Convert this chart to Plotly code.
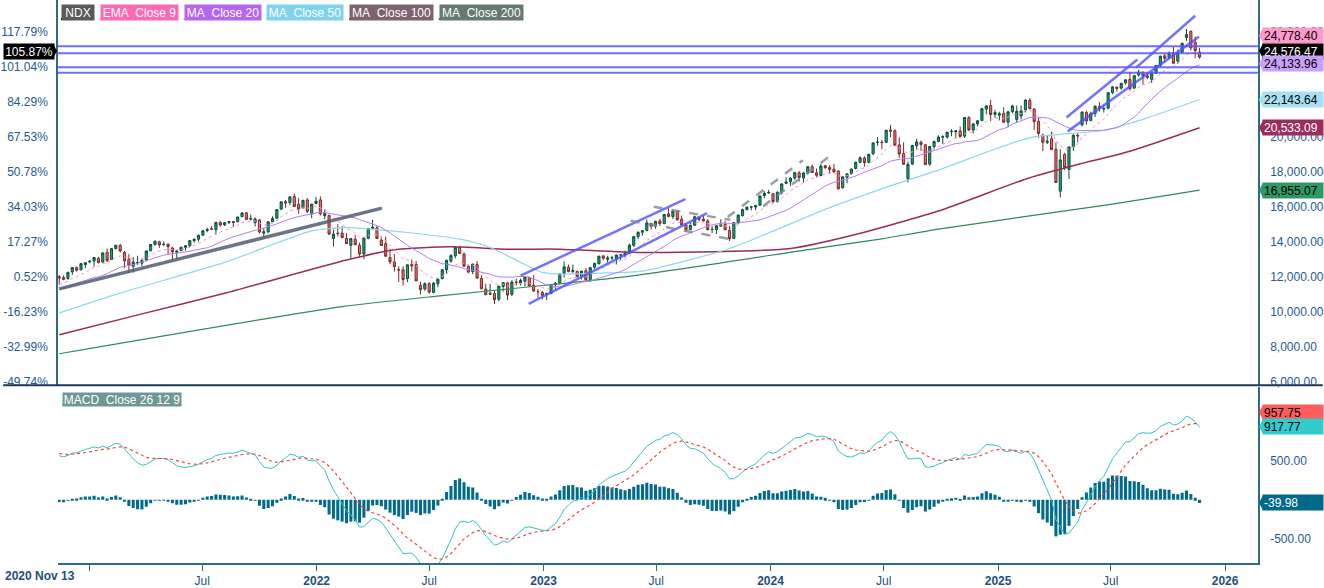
import numpy as np
import pandas as pd
import plotly.graph_objects as go

# ---------------- DATA (weekly NDX bars, first bar 2020 Nov 13) ----------------
start_date = "2020-11-13"

open_ = [
    # 2020
    12000, 11950, 11900, 12280, 12520, 12400, 12700, 12850,
    # 2021
    12900, 13050, 12850, 13400, 13000, 13620, 13800, 13400, 13000, 12600, 12800, 12780,
    12980, 13500, 13850, 14000, 13850, 13870, 13650, 13400, 13500, 13690, 13780, 14070, 14150,
    14380, 14650, 14750, 14700, 15100, 14980, 15100, 15160, 15150, 15440, 15660, 15300, 15100,
    15250, 14500, 14580, 15150, 15350, 15870, 16300, 16250, 16600, 16150, 15950, 16400, 15600, 16200,
    # 2022
    16400, 15500, 15500, 14200, 14500, 14500, 14200, 13800, 14150, 13800, 13300, 14200,
    14770, 14800, 14100, 13900, 13100, 12850, 12400, 12400, 11900, 12700, 12700, 11500, 11300,
    11600, 11100, 11600, 11900, 12400, 12900, 13200, 13700, 13300, 12600, 12300, 12700, 11900, 11300,
    11000, 11050, 10720, 11450, 11650, 11000, 11700, 11650, 11750, 11950, 11500, 11150, 11100,
    # 2023
    11000, 11050, 11550, 11620, 12200, 12550, 12300, 12300, 12000, 12350, 11850, 12550, 12750,
    13200, 13000, 13080, 13050, 13250, 13250, 13350, 13800, 14300, 14550, 14650, 15050, 14900,
    15200, 15050, 15600, 15450, 15750, 15300, 14950, 14700, 14950, 15400, 15300, 15200, 14700,
    14700, 14900, 15000, 14650, 14200, 15100, 15500, 15850, 15990, 15990, 16100, 16650, 16800,
    # 2024
    16750, 16300, 16850, 17350, 17450, 17650, 17950, 17650, 17950, 18300, 17950, 17800, 18350,
    18250, 18150, 18050, 17100, 17700, 17900, 18200, 18550, 18800, 18550, 19050, 19700, 19700,
    19700, 20400, 20350, 19550, 19050, 17600, 18450, 19500, 19700, 19550, 18450, 19450, 19750,
    20000, 20000, 20300, 20300, 20350, 20050, 21100, 20400, 20750, 20950, 21600, 21800, 21300,
    # 2025
    21250, 21350, 20850, 21450, 21000, 21200, 21550, 22100, 21600, 20900, 20100, 19700, 19900,
    19300, 16900, 19000, 18150, 19450, 20100, 20700, 21400, 20950, 21350, 21750, 21600, 21650,
    22550, 22850, 22800, 23100, 23300, 22800, 23550, 23700, 23500, 23300, 23650, 24100, 24650,
    24550, 24800, 24350, 24850, 25690, 26050, 25430, 24860,
]

high_ = [
    # 2020
    12110, 12080, 12270, 12530, 12600, 12770, 12840, 12970,
    # 2021
    13120, 13150, 13400, 13620, 13620, 13820, 13880, 13480, 13300, 13130, 13200, 13050,
    13500, 13850, 14060, 14060, 14020, 13890, 13720, 13530, 13720, 13800, 14080, 14200, 14400,
    14640, 14800, 14900, 15120, 15190, 15120, 15170, 15200, 15430, 15700, 15700, 15560, 15400,
    15300, 14800, 15150, 15460, 15870, 16300, 16400, 16600, 16764, 16500, 16400, 16500, 16170, 16560,
    # 2022
    16600, 15860, 15560, 14700, 15000, 14900, 14500, 14200, 14400, 13960, 14230, 14800,
    15265, 14900, 14300, 14300, 13600, 13300, 12600, 12600, 12700, 13000, 12900, 11700, 11680,
    11700, 11700, 11900, 12450, 12950, 13300, 13700, 13720, 13400, 12700, 12740, 12900, 12100, 11600,
    11600, 11200, 11470, 11700, 11700, 11800, 11900, 11900, 12050, 12000, 12100, 11300, 11200,
    # 2023
    11100, 11550, 11700, 12170, 12880, 12700, 12700, 12350, 12330, 12500, 12550, 12800, 13190,
    13200, 13200, 13200, 13260, 13300, 13500, 13900, 14300, 14600, 14650, 15280, 15100, 15200,
    15300, 15600, 15930, 15800, 15800, 15500, 15050, 15100, 15500, 15450, 15500, 15300, 14900,
    14950, 15300, 15200, 14900, 15100, 15550, 15900, 16020, 16050, 16100, 16650, 16900, 16970,
    # 2024
    16800, 16900, 17350, 17700, 17700, 17970, 18050, 18000, 18310, 18420, 18200, 18460, 18400,
    18400, 18450, 18100, 17750, 17900, 18200, 18600, 18900, 18900, 19050, 19700, 20000, 19850,
    20400, 20690, 20450, 19980, 19700, 18600, 19550, 19900, 19800, 19600, 19500, 19800, 20100,
    20100, 20300, 20450, 20400, 20600, 21150, 21200, 20800, 20950, 21650, 21800, 22130, 21550,
    # 2025
    21450, 21700, 21500, 21850, 21800, 21800, 22150, 22230, 21650, 21100, 20200, 20100, 20300,
    19700, 19300, 19100, 19450, 20150, 20250, 21450, 21500, 21450, 21800, 22000, 21850, 22550,
    22900, 22900, 23100, 23300, 23700, 23550, 23850, 23750, 23700, 23700, 24100, 24650, 24800,
    24900, 25150, 25000, 25400, 26182, 26100, 25750, 25100,
]

low_ = [
    # 2020
    11550, 11800, 11830, 12100, 12300, 12380, 12500, 12780,
    # 2021
    12580, 12780, 12800, 12850, 12980, 13560, 13400, 12500, 12208, 12240, 12680, 12600,
    12900, 13450, 13780, 13660, 13750, 13300, 12946, 13000, 13470, 13500, 13700, 13960, 14000,
    14360, 14550, 14700, 14430, 14870, 14900, 15030, 14850, 15120, 15420, 15280, 15220, 14880,
    14480, 14260, 14480, 15130, 15340, 15850, 15950, 16100, 16000, 15600, 15900, 15650, 15350, 16150,
    # 2022
    15500, 15300, 14430, 13725, 14300, 14200, 13880, 13021, 13800, 13100, 13000, 14150,
    14700, 14180, 13770, 13170, 12720, 12300, 11700, 11500, 11700, 12300, 11760, 10990, 11200,
    11030, 11050, 11400, 11850, 12150, 12800, 13050, 13300, 12600, 12200, 12150, 11900, 11300, 10970,
    10960, 10440, 10600, 11150, 10670, 10900, 11500, 11500, 11450, 11450, 11150, 10800, 10700,
    # 2023
    10670, 11000, 11250, 11550, 11950, 12250, 12200, 11950, 11850, 11800, 11700, 12450, 12700,
    12950, 12800, 12950, 12700, 12950, 13100, 13300, 13700, 14150, 14350, 14600, 14700, 14750,
    14900, 15000, 15400, 15300, 15200, 14950, 14550, 14700, 14900, 15150, 15150, 14650, 14500,
    14450, 14850, 14650, 14050, 14150, 15000, 15450, 15800, 15800, 15800, 16050, 16500, 16750,
    # 2024
    16200, 16250, 16700, 17300, 17200, 17550, 17450, 17400, 17850, 17950, 17700, 17750, 18150,
    17900, 17950, 17000, 17050, 17350, 17850, 18150, 18500, 18300, 18500, 18950, 19500, 19300,
    19650, 20000, 19500, 18800, 18400, 17400, 18400, 19300, 19200, 18400, 18350, 19300, 19700,
    19600, 19900, 20050, 19950, 19950, 19950, 20350, 20200, 20600, 20900, 21300, 20900, 21100,
    # 2025
    20950, 20800, 20550, 21350, 20800, 21000, 21400, 21600, 20400, 19950, 19200, 19600, 19250,
    17380, 16542, 18100, 17600, 19200, 19700, 20600, 20700, 20900, 21150, 21450, 21400, 21600,
    22450, 22600, 22700, 23000, 22650, 22750, 23450, 23000, 23300, 23100, 23600, 24000, 24250,
    24450, 24200, 24200, 24800, 25500, 24950, 24520, 24480,
]

close_ = [
    # 2020
    11937.84, 11854, 12258, 12528, 12378, 12755, 12804, 12888,
    # 2021
    13105, 12804, 13366, 12925, 13613, 13807, 13474, 12909, 12668, 12843, 12821, 12931,
    13480, 13845, 14041, 13819, 13861, 13720, 13431, 13469, 13687, 13774, 14069, 14143, 14379,
    14639, 14705, 14730, 15119, 14959, 15095, 15161, 15113, 15425, 15653, 15288, 15333, 15309,
    14566, 14579, 15146, 15336, 15850, 16290, 16217, 16573, 16026, 15880, 16378, 15746, 16156, 16320,
    # 2022
    15596, 15611, 14439, 14440, 14478, 14254, 13894, 14187, 13837, 13301, 14220, 14768,
    14838, 14193, 13793, 13174, 12854, 12584, 12387, 11835, 12682, 12628, 11764, 11265, 11608,
    11128, 11636, 11861, 12397, 12947, 13209, 13705, 13339, 12605, 12271, 12731, 11927, 11311, 10971,
    11049, 10696, 11470, 11669, 10953, 11697, 11677, 11786, 11988, 11480, 11181, 11143, 10940,
    # 2023
    11040, 11541, 11620, 12167, 12573, 12305, 12359, 12008, 12330, 11830, 12520, 12767, 13181,
    13062, 13080, 13092, 13246, 13262, 13340, 13808, 14298, 14546, 14634, 15084, 14891, 15179,
    15042, 15565, 15452, 15758, 15274, 14973, 14694, 14941, 15432, 15285, 15203, 14701, 14715,
    14919, 14995, 14700, 14180, 15099, 15530, 15840, 15982, 15998, 16084, 16623, 16776, 16826,
    # 2024
    16306, 16832, 17314, 17421, 17643, 17962, 17686, 17937, 18302, 17962, 17808, 18339, 18255,
    18139, 18003, 17037, 17718, 17890, 18161, 18546, 18809, 18537, 19000, 19660, 19701, 19683,
    20392, 20332, 19522, 19023, 18440, 18430, 19508, 19720, 19575, 18421, 19455, 19736, 20000,
    20011, 20272, 20324, 20352, 20033, 21118, 20394, 20744, 20930, 21622, 21780, 21289, 21394,
    # 2025
    21326, 20847, 21441, 21774, 21478, 21491, 22115, 21614, 20884, 20202, 19704, 19754, 19282,
    17398, 18690, 18258, 19432, 20102, 20062, 21428, 20915, 21341, 21761, 21631, 21626, 22534,
    22867, 22780, 23066, 23272, 22764, 23505, 23713, 23499, 23415, 23652, 24093, 24626, 24504,
    24785, 24222, 24818, 25358, 25858, 25100, 24940, 24576.47,
]

# weekly closes before the first bar (2020 Jan 3 .. Nov 6), used only to warm up EMA / MA20 / MACD
warmup_close = [
    8794, 9022, 9174, 9187, 8992, 9401, 9623, 9446, 8462, 8530, 7875, 6994, 7503, 7528, 8230,
    8833, 8784, 8718, 9121, 9152, 9325, 9555, 9824, 9588, 10057, 9850, 10342, 10768, 10503,
    10461, 10906, 11139, 11220, 11650, 12056, 11622, 11087, 10937, 11242, 11316, 11920, 11863,
    11666, 11052, 11895,
]

# long moving averages: (week index from first bar, value)
ma50_week = [0, 14, 38, 58, 66, 80, 92, 99, 107, 111, 115, 124, 134, 154, 177, 192, 202, 223, 240, 250, 262]
ma50_val = [9934, 11069, 12822, 14625, 14819, 14534, 14153, 13679, 12700, 12252, 12155, 12212, 12326,
            13621, 15960, 17290, 18106, 19955, 20371, 21096, 22143.64]
ma100_week = [0, 19, 38, 66, 77, 90, 103, 115, 134, 168, 185, 202, 223, 234, 246, 262]
ma100_val = [8680, 9877, 11054, 12955, 13542, 13713, 13582, 13582, 13394, 13621, 14551, 15765, 17672,
             18430, 19190, 20533.09]
ma200_week = [0, 65, 88, 110, 133, 174, 189, 202, 242, 262]
ma200_val = [7596, 10294, 10925, 11474, 12101, 13629, 14169, 14730, 16157, 16955.07]

# drawn trend lines: (dates, prices)
grey_trend = (["2020-11-13", "2022-04-16"], [11307, 15929])
blue_lines = [
    (["2022-11-25", "2023-08-17"], [12066, 16442]),
    (["2022-12-08", "2023-09-21"], [10451, 15643]),
    (["2025-04-21", "2025-08-13"], [21121, 24431]),
    (["2025-04-23", "2025-11-20"], [20322, 25743]),
    (["2025-08-11", "2025-11-14"], [23974, 26941]),
]
grey_dashed = [
    (["2023-06-27", "2023-10-28"], [16003, 15261]),
    (["2023-05-21", "2023-10-28"], [15204, 14160]),
    (["2023-10-24", "2024-02-22"], [15415, 18668]),
    (["2023-12-20", "2024-04-03"], [16043, 18839]),
]
level_prices = [25190, 24790, 23991, 23671]

price_ticks = [6000, 8000, 10000, 12000, 14000, 16000, 18000, 20000, 22000, 24000, 26000]
# right-axis labels that are not hidden behind the value tags
price_ticks_right = [6000, 8000, 10000, 12000, 14000, 16000, 18000, 20000, 26000]
macd_ticks = [-500, 500]

tick_dates = ["2021-01-01", "2021-07-01", "2022-01-01", "2022-07-01", "2023-01-01", "2023-07-01",
              "2024-01-01", "2024-07-01", "2025-01-01", "2025-07-01", "2026-01-01"]
tick_text = ["", "Jul", "<b>2022</b>", "Jul", "<b>2023</b>", "Jul", "<b>2024</b>", "Jul",
             "<b>2025</b>", "Jul", "<b>2026</b>"]

# last-value tags shown on the right axis (text as printed in the chart)
last_tags = ["24,778.40", "24,576.47", "24,133.96", "22,143.64", "20,533.09", "16,955.07"]
macd_tags = ["957.75", "917.77", "-39.98"]

# ---------------- DERIVED SERIES ----------------
dates = pd.date_range(start_date, periods=len(close_), freq="7D")
base = close_[0]
allc = pd.Series(warmup_close + close_, dtype=float)
n0 = len(warmup_close)
ema9 = allc.ewm(span=9, adjust=False).mean().iloc[n0:].values
ma20 = allc.rolling(20).mean().iloc[n0:].values
macd_line = allc.ewm(span=12, adjust=False).mean() - allc.ewm(span=26, adjust=False).mean()
signal_line = macd_line.ewm(span=9, adjust=False).mean()
hist = (macd_line - signal_line).iloc[n0:].values
macd_v = macd_line.iloc[n0:].values
sig_v = signal_line.iloc[n0:].values


def week_dates(weeks):
    return pd.Timestamp(start_date) + pd.to_timedelta(np.array(weeks) * 7, unit="D")


# ---------------- GEOMETRY HELPERS ----------------
PL, PW, PH = 55, 1204, 565


def px_x(x):
    return (x - PL) / PW


def px_y(y):
    return 1 - y / PH


FONT = "Liberation Sans, Arial, sans-serif"
TICK_COLOR = "#1e5a96"
AXIS_COLOR = "#2d6a8a"

fig = go.Figure()

# moving averages
fig.add_trace(go.Scatter(x=week_dates(ma200_week), y=ma200_val, mode="lines", line=dict(color="#2e8b57", width=1.2, shape="spline", smoothing=0.6), hoverinfo="skip"))
fig.add_trace(go.Scatter(x=week_dates(ma100_week), y=ma100_val, mode="lines", line=dict(color="#9a2b5a", width=1.5, shape="spline", smoothing=0.6), hoverinfo="skip"))
fig.add_trace(go.Scatter(x=week_dates(ma50_week), y=ma50_val, mode="lines", line=dict(color="#8fd6ee", width=1.2, shape="spline", smoothing=0.6), hoverinfo="skip"))
fig.add_trace(go.Scatter(x=dates, y=ma20, mode="lines", line=dict(color="#b57cf5", width=1), hoverinfo="skip"))
fig.add_trace(go.Scatter(x=dates, y=ema9, mode="lines", line=dict(color="#ff8cc6", width=1, dash="dot"), hoverinfo="skip"))

# candles
fig.add_trace(go.Candlestick(
    x=dates, open=open_, high=high_, low=low_, close=close_,
    increasing=dict(fillcolor="#1aa579", line=dict(color="#0d4d36", width=1)),
    decreasing=dict(fillcolor="#e57373", line=dict(color="#7a2a2a", width=1)),
    whiskerwidth=0, hoverinfo="skip", xaxis="x", yaxis="y"))

# drawn lines
fig.add_trace(go.Scatter(x=grey_trend[0], y=grey_trend[1], mode="lines", line=dict(color="rgba(80,94,115,0.85)", width=3.5), hoverinfo="skip"))
for xs, ys in blue_lines:
    fig.add_trace(go.Scatter(x=xs, y=ys, mode="lines", line=dict(color="rgba(80,80,255,0.8)", width=2.5), hoverinfo="skip"))
for xs, ys in grey_dashed:
    fig.add_trace(go.Scatter(x=xs, y=ys, mode="lines", line=dict(color="rgba(125,132,150,0.8)", width=2.5, dash="dash"), hoverinfo="skip"))

# invisible trace so the percent axis is drawn
fig.add_trace(go.Scatter(x=[dates[0]], y=[base], yaxis="y2", mode="markers", marker=dict(opacity=0), hoverinfo="skip"))

# MACD panel
fig.add_trace(go.Bar(x=dates, y=hist, yaxis="y3", marker=dict(color="#006b8a", line=dict(width=0)), hoverinfo="skip"))
fig.add_trace(go.Scatter(x=dates, y=macd_v, yaxis="y3", mode="lines", line=dict(color="#2ec4c4", width=1), hoverinfo="skip"))
fig.add_trace(go.Scatter(x=dates, y=sig_v, yaxis="y3", mode="lines", line=dict(color="#ff4040", width=1.2, dash="dot"), hoverinfo="skip"))

shapes = []
for p in level_prices:
    shapes.append(dict(type="line", xref="paper", x0=0, x1=1, yref="y", y0=p, y1=p,
                       line=dict(color="rgba(85,85,255,0.85)", width=2)))
# panel separator
shapes.append(dict(type="line", xref="paper", x0=px_x(0), x1=px_x(1324), yref="paper", y0=px_y(386.5), y1=px_y(386.5),
                   line=dict(color="#1a3a55", width=2)))

annotations = []
# legend boxes
legend_items = [
    ("NDX", "#5a5a5a", "#000000", 58, 32),
    ("EMA\u00a0 Close 9", "#ff69b4", "#ff9fd0", 97, 77),
    ("MA\u00a0 Close 20", "#b565f5", "#cfa3fa", 181, 76),
    ("MA\u00a0 Close 50", "#7fd3ef", "#a8e4f4", 264, 76),
    ("MA\u00a0 Close 100", "#7b6470", "#9b2d5c", 347, 83),
    ("MA\u00a0 Close 200", "#667a70", "#2e8b57", 437, 83),
]
for txt, bg, ul, left, w in legend_items:
    annotations.append(dict(text=txt, xref="paper", yref="paper", x=px_x(left), y=px_y(4), xanchor="left", yanchor="top",
                            showarrow=False, bgcolor=bg, width=w, height=15, borderpad=0, align="center",
                            font=dict(family=FONT, size=12, color="white")))
    shapes.append(dict(type="line", xref="paper", yref="paper", x0=px_x(left), x1=px_x(left + w), y0=px_y(19), y1=px_y(19),
                       line=dict(color=ul, width=2)))

annotations.append(dict(text="MACD\u00a0 Close 26 12 9", xref="paper", yref="paper", x=px_x(59), y=px_y(393), xanchor="left", yanchor="top",
                        showarrow=False, bgcolor="#6f9795", width=118, height=13, borderpad=0,
                        font=dict(family=FONT, size=12, color="white")))
shapes.append(dict(type="line", xref="paper", yref="paper", x0=px_x(59), x1=px_x(177), y0=px_y(406), y1=px_y(406),
                   line=dict(color="#33cccc", width=2)))

# right-side value tags
tag_values = [float(t.replace(",", "")) for t in last_tags]
tag_style = [("#ff99cc", "black", 18), ("black", "white", 6), ("#c9a0f7", "black", 1),
             ("#a6e0f2", "black", 0), ("#9b2d5c", "white", 0), ("#2e9966", "black", 0)]
for txt, v, (bg, fc, ys) in zip(last_tags, tag_values, tag_style):
    annotations.append(dict(text=txt, xref="paper", yref="y", x=px_x(1263), y=v, yshift=ys, xanchor="left", yanchor="middle",
                            showarrow=False, bgcolor=bg, width=58, height=13, borderpad=1, align="left",
                            font=dict(family=FONT, size=12, color=fc)))
    shapes.append(dict(type="path", xref="paper", xsizemode="pixel", xanchor=1.0, yref="y", ysizemode="pixel", yanchor=v,
                       path=f"M 1 {ys} L 5 {ys + 7.5} L 5 {ys - 7.5} Z", fillcolor=bg, line=dict(width=0)))

# left percent tag for the last close
pct_txt = f"{(close_[-1] / base - 1) * 100:.2f}%"
annotations.append(dict(text=pct_txt, xref="paper", yref="y", x=px_x(0), y=close_[-1], yshift=6, xanchor="left", yanchor="middle",
                        showarrow=False, bgcolor="black", width=48, height=13, borderpad=1,
                        font=dict(family=FONT, size=12, color="white")))
shapes.append(dict(type="path", xref="paper", xsizemode="pixel", xanchor=0.0, yref="y", ysizemode="pixel", yanchor=close_[-1],
                   path="M -1 6 L -5 13.5 L -5 -1.5 Z", fillcolor="black", line=dict(width=0)))

# MACD tags
macd_vals = [float(t) for t in macd_tags]
macd_style = [("#ff5c5c", "black", 12), ("#33cccc", "black", 1), ("#00698a", "white", 0)]
for txt, v, (bg, fc, ys) in zip(macd_tags, macd_vals, macd_style):
    annotations.append(dict(text=txt, xref="paper", yref="y3", x=px_x(1263), y=v, yshift=ys, xanchor="left", yanchor="middle",
                            showarrow=False, bgcolor=bg, width=58, height=13, borderpad=1, align="left",
                            font=dict(family=FONT, size=12, color=fc)))
    shapes.append(dict(type="path", xref="paper", xsizemode="pixel", xanchor=1.0, yref="y3", ysizemode="pixel", yanchor=v,
                       path=f"M 1 {ys} L 5 {ys + 7.5} L 5 {ys - 7.5} Z", fillcolor=bg, line=dict(width=0)))

# first date label
annotations.append(dict(text="<b>2020 Nov 13</b>", xref="paper", yref="paper", x=px_x(0), y=px_y(578), xanchor="left", yanchor="middle",
                        showarrow=False, font=dict(family=FONT, size=12, color="#1f4f7f")))

pct_ticktext = [f"{(p / base - 1) * 100:.2f}%" for p in price_ticks]

fig.update_layout(
    width=1324, height=588,
    margin=dict(l=PL, r=1324 - PL - PW, t=0, b=588 - PH),
    paper_bgcolor="white", plot_bgcolor="white",
    showlegend=False, bargap=0.3, boxgap=0.3,
    font=dict(family=FONT, size=12, color=TICK_COLOR),
    xaxis=dict(type="date", range=["2020-11-11", "2026-02-23"], anchor="y3",
               tickvals=tick_dates, ticktext=tick_text, ticks="outside", ticklen=6, tickcolor=AXIS_COLOR,
               showgrid=False, zeroline=False, showline=True, linecolor=AXIS_COLOR, linewidth=1.5,
               tickfont=dict(family=FONT, size=12, color="#1f4f7f"), rangeslider=dict(visible=False)),
    yaxis=dict(domain=[px_y(386), 1], range=[5828, 27841], side="right", anchor="x",
               tickvals=price_ticks_right, tickformat=",.2f", showgrid=False, zeroline=False, ticks="",
               showline=True, linecolor=AXIS_COLOR, linewidth=1.5, ticklabelstandoff=8,
               tickfont=dict(family=FONT, size=12, color=TICK_COLOR)),
    yaxis2=dict(overlaying="y", range=[5828, 27841], side="left", anchor="x",
                tickvals=price_ticks, ticktext=pct_ticktext, showgrid=False, zeroline=False, ticks="",
                showline=True, linecolor=AXIS_COLOR, linewidth=1.5, ticklabelstandoff=6,
                tickfont=dict(family=FONT, size=12, color=TICK_COLOR)),
    yaxis3=dict(domain=[0, px_y(388)], range=[-804, 1437], side="right", anchor="x",
                tickvals=macd_ticks, ticktext=[f"{v:.2f}" for v in macd_ticks], showgrid=False, zeroline=False, ticks="",
                showline=True, linecolor=AXIS_COLOR, linewidth=1.5, ticklabelstandoff=8,
                tickfont=dict(family=FONT, size=12, color=TICK_COLOR)),
    shapes=shapes, annotations=annotations,
)

fig.write_html("out.html", config={"displayModeBar": False},
               post_script="document.body.style.margin='0';document.body.style.overflow='hidden';")
